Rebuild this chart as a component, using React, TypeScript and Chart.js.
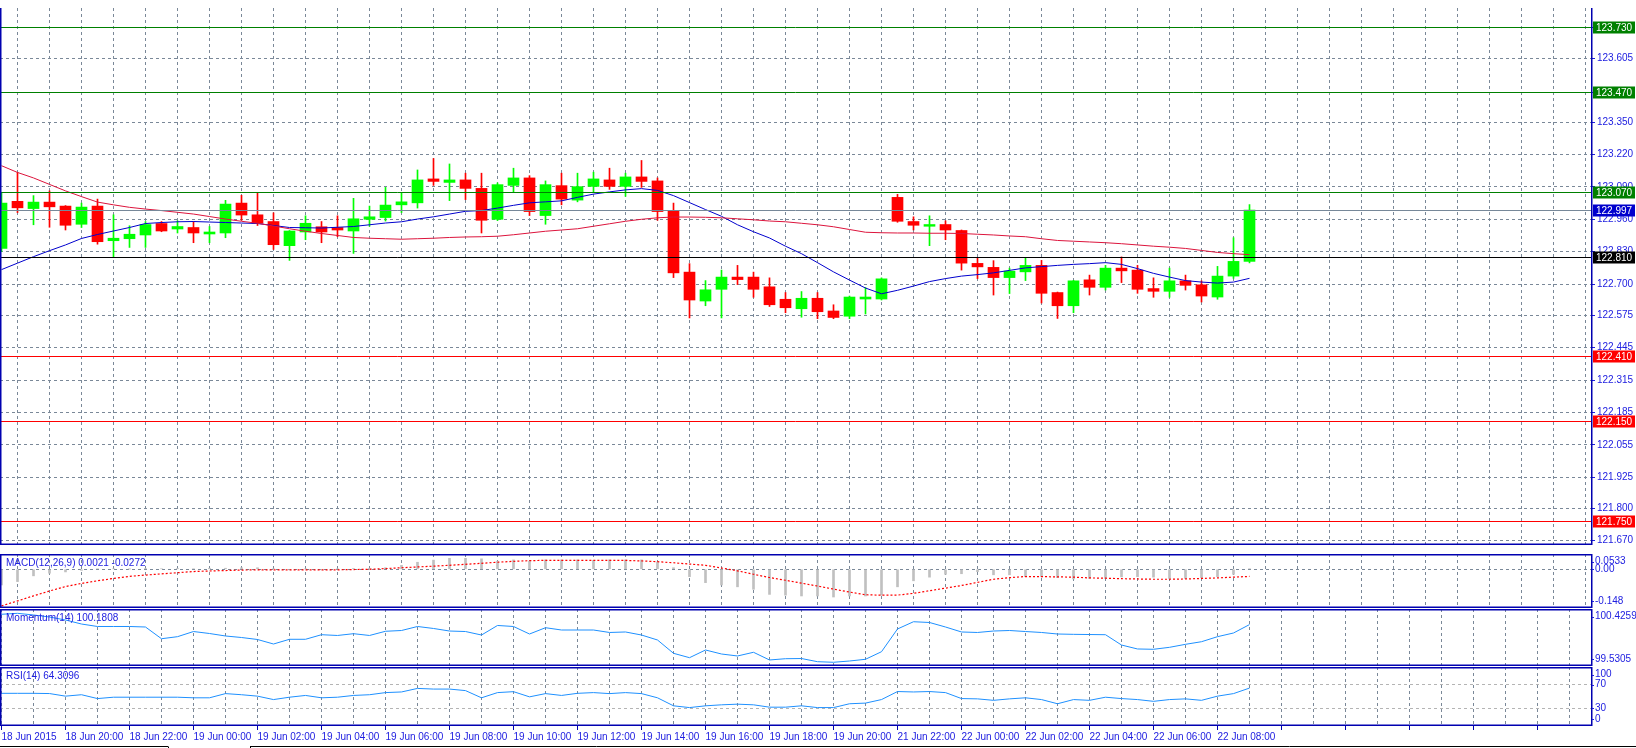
import React, { useEffect, useRef } from "react";
import { Chart, registerables } from "chart.js";

Chart.register(...registerables);

// ---------------- data ----------------
const timeLabels = [
  "18 Jun 2015", "18 Jun 20:00", "18 Jun 22:00", "19 Jun 00:00", "19 Jun 02:00",
  "19 Jun 04:00", "19 Jun 06:00", "19 Jun 08:00", "19 Jun 10:00", "19 Jun 12:00",
  "19 Jun 14:00", "19 Jun 16:00", "19 Jun 18:00", "19 Jun 20:00", "21 Jun 22:00",
  "22 Jun 00:00", "22 Jun 02:00", "22 Jun 04:00", "22 Jun 06:00", "22 Jun 08:00",
];
const barsPerTimeLabel = 4;
const barsPerGridLine = 2;

const opens = [
  122.843, 123.032, 123.003, 123.029, 123.013, 122.940, 123.013, 122.874, 122.882, 122.897,
  122.943, 122.921, 122.927, 122.901, 122.905, 123.025, 122.978, 122.951, 122.854, 122.909,
  122.930, 122.927, 122.913, 122.960, 122.967, 123.018, 123.026, 123.122, 123.108, 123.118,
  123.084, 122.960, 123.096, 123.126, 122.975, 123.095, 123.037, 123.092, 123.118, 123.092,
  123.130, 123.114, 122.993, 122.748, 122.632, 122.679, 122.728, 122.728, 122.689, 122.639,
  122.601, 122.643, 122.592, 122.571, 122.640, 122.640, 123.048, 122.951, 122.932, 122.939,
  122.915, 122.783, 122.767, 122.726, 122.749, 122.775, 122.666, 122.613, 122.717, 122.687,
  122.764, 122.756, 122.682, 122.671, 122.713, 122.697, 122.648, 122.732, 122.791,
];
const highs = [
  123.065, 123.148, 123.055, 123.074, 123.015, 123.025, 123.041, 122.978, 122.934, 122.951,
  122.951, 122.954, 122.951, 122.931, 123.036, 123.056, 123.067, 122.986, 122.915, 122.974,
  122.951, 122.974, 123.044, 123.013, 123.088, 123.065, 123.158, 123.204, 123.182, 123.145,
  123.145, 123.106, 123.165, 123.135, 123.114, 123.145, 123.145, 123.149, 123.165, 123.145,
  123.196, 123.126, 123.025, 122.782, 122.714, 122.756, 122.775, 122.748, 122.725, 122.666,
  122.670, 122.666, 122.617, 122.652, 122.686, 122.725, 123.060, 122.970, 122.974, 122.954,
  122.917, 122.805, 122.794, 122.764, 122.805, 122.795, 122.668, 122.715, 122.736, 122.775,
  122.809, 122.775, 122.725, 122.764, 122.736, 122.713, 122.771, 122.886, 123.019,
];
const lows = [
  122.830, 122.987, 122.938, 122.928, 122.917, 122.927, 122.860, 122.810, 122.847, 122.847,
  122.910, 122.905, 122.866, 122.866, 122.886, 122.956, 122.935, 122.839, 122.795, 122.878,
  122.866, 122.890, 122.823, 122.932, 122.953, 122.987, 123.005, 123.096, 123.035, 123.039,
  122.905, 122.955, 123.067, 122.975, 122.940, 123.018, 123.030, 123.070, 123.080, 123.052,
  123.088, 122.956, 122.726, 122.564, 122.613, 122.564, 122.698, 122.647, 122.610, 122.585,
  122.567, 122.561, 122.561, 122.561, 122.580, 122.636, 122.948, 122.917, 122.854, 122.878,
  122.756, 122.722, 122.656, 122.662, 122.714, 122.624, 122.562, 122.585, 122.656, 122.676,
  122.706, 122.663, 122.647, 122.647, 122.676, 122.628, 122.639, 122.723, 122.785,
];
const closes = [
  123.025, 123.006, 123.029, 123.010, 122.936, 123.009, 122.870, 122.884, 122.900, 122.939,
  122.913, 122.931, 122.905, 122.909, 123.021, 122.977, 122.944, 122.858, 122.913, 122.944,
  122.909, 122.917, 122.962, 122.970, 123.017, 123.030, 123.118, 123.112, 123.118, 123.084,
  122.956, 123.099, 123.126, 122.991, 123.099, 123.041, 123.091, 123.122, 123.092, 123.130,
  123.112, 122.991, 122.745, 122.636, 122.677, 122.728, 122.718, 122.679, 122.617, 122.605,
  122.643, 122.589, 122.566, 122.648, 122.648, 122.721, 122.952, 122.936, 122.939, 122.917,
  122.784, 122.769, 122.726, 122.752, 122.775, 122.663, 122.613, 122.713, 122.687, 122.764,
  122.753, 122.679, 122.671, 122.713, 122.695, 122.652, 122.732, 122.791, 122.997,
];
const maFast = [
  122.758, 122.784, 122.810, 122.834, 122.857, 122.883, 122.899, 122.913, 122.927, 122.943,
  122.947, 122.950, 122.951, 122.949, 122.947, 122.945, 122.943, 122.935, 122.927, 122.926,
  122.925, 122.928, 122.931, 122.938, 122.945, 122.950, 122.961, 122.970, 122.981, 122.992,
  122.995, 123.005, 123.016, 123.026, 123.030, 123.034, 123.048, 123.061, 123.070, 123.078,
  123.083, 123.076, 123.055, 123.027, 122.999, 122.972, 122.938, 122.910, 122.885, 122.852,
  122.822, 122.786, 122.749, 122.716, 122.684, 122.661, 122.675, 122.692, 122.710, 122.722,
  122.732, 122.738, 122.745, 122.755, 122.765, 122.770, 122.775, 122.779, 122.782, 122.786,
  122.779, 122.762, 122.743, 122.728, 122.714, 122.708, 122.704, 122.708, 122.723,
];
const maSlow = [
  123.175, 123.148, 123.126, 123.100, 123.074, 123.051, 123.029, 123.018, 123.008, 123.001,
  122.995, 122.988, 122.981, 122.971, 122.961, 122.952, 122.944, 122.933, 122.922, 122.912,
  122.903, 122.895, 122.887, 122.884, 122.882, 122.880, 122.882, 122.884, 122.887, 122.889,
  122.890, 122.892, 122.898, 122.905, 122.912, 122.917, 122.922, 122.932, 122.942, 122.952,
  122.960, 122.966, 122.969, 122.969, 122.968, 122.966, 122.962, 122.958, 122.953, 122.950,
  122.944, 122.938, 122.930, 122.919, 122.908, 122.906, 122.905, 122.905, 122.904, 122.904,
  122.903, 122.900, 122.897, 122.893, 122.890, 122.882, 122.875, 122.872, 122.869, 122.866,
  122.862, 122.857, 122.852, 122.848, 122.843, 122.835, 122.827, 122.822, 122.818,
];
const macdMain = [
  -0.060, -0.047, -0.025, -0.015, -0.010, -0.004, 0.002, 0.002, 0.001, 0.003,
  0.002, 0.003, 0.002, 0.004, 0.004, 0.006, 0.006, 0.002, -0.001, 0.001,
  -0.002, 0.001, 0.003, 0.004, 0.006, 0.015, 0.027, 0.035, 0.042, 0.042,
  0.040, 0.031, 0.036, 0.031, 0.036, 0.036, 0.036, 0.034, 0.036, 0.036,
  0.036, 0.028, 0.006, -0.028, -0.051, -0.060, -0.067, -0.0765, -0.096, -0.099,
  -0.102, -0.102, -0.106, -0.102, -0.102, -0.099, -0.067, -0.044, -0.030, -0.019,
  -0.017, -0.009, -0.021, -0.021, -0.028, -0.028, -0.032, -0.037, -0.035, -0.035,
  -0.029, -0.028, -0.030, -0.035, -0.035, -0.032, -0.028, -0.019, 0.0021,
];
const macdSignal = [
  -0.140, -0.121, -0.1015, -0.083, -0.066, -0.054, -0.044, -0.035, -0.027, -0.022,
  -0.0175, -0.013, -0.0086, -0.0065, -0.0048, -0.003, -0.002, -0.002, -0.002, -0.002,
  -0.002, -0.002, -0.001, 0.000, 0.0027, 0.006, 0.009, 0.012, 0.0153, 0.019,
  0.023, 0.027, 0.0305, 0.033, 0.0343, 0.0345, 0.0345, 0.0345, 0.0343, 0.034,
  0.032, 0.029, 0.025, 0.020, 0.0153, 0.005, -0.006, -0.019, -0.0315, -0.042,
  -0.053, -0.064, -0.0758, -0.087, -0.0973, -0.099, -0.0986, -0.092, -0.082, -0.072,
  -0.062, -0.050, -0.038, -0.032, -0.0277, -0.028, -0.029, -0.030, -0.033, -0.034,
  -0.036, -0.037, -0.038, -0.038, -0.037, -0.035, -0.033, -0.030, -0.0272,
];
const momentum = [
  100.343, 100.358, 100.332, 100.300, 100.253, 100.190, 100.151, 100.151, 100.151, 100.143,
  99.959, 99.991, 100.072, 100.041, 100.002, 99.978, 99.947, 99.876, 99.950, 99.950,
  100.022, 100.010, 100.038, 100.010, 100.076, 100.088, 100.151, 100.120, 100.080, 100.072,
  100.017, 100.167, 100.151, 100.033, 100.132, 100.096, 100.096, 100.096, 100.057, 100.065,
  100.017, 99.939, 99.730, 99.661, 99.782, 99.719, 99.688, 99.746, 99.625, 99.645,
  99.648, 99.598, 99.589, 99.609, 99.636, 99.755, 100.112, 100.226, 100.214, 100.143,
  100.065, 100.057, 100.080, 100.088, 100.072, 100.057, 100.033, 100.028, 100.025, 100.022,
  99.860, 99.798, 99.793, 99.824, 99.871, 99.912, 99.991, 100.049, 100.181,
];
const rsi = [
  55.4, 55.4, 55.4, 55.0, 50.6, 53.0, 46.5, 48.8, 48.8, 48.8,
  48.8, 48.8, 47.8, 47.8, 54.9, 53.0, 50.6, 44.8, 48.8, 51.8,
  47.8, 48.8, 51.8, 53.0, 56.6, 57.7, 63.7, 62.6, 62.6, 60.0,
  47.8, 56.6, 58.2, 49.4, 54.9, 51.8, 55.4, 56.6, 54.9, 56.6,
  54.9, 47.8, 34.2, 31.2, 34.2, 35.9, 37.0, 35.9, 31.9, 31.9,
  34.2, 31.2, 31.2, 37.7, 38.8, 44.8, 58.4, 57.7, 58.4, 56.6,
  46.5, 46.0, 43.5, 46.0, 47.8, 44.8, 37.7, 44.8, 43.5, 48.8,
  46.5, 44.8, 41.8, 44.8, 46.0, 43.5, 50.6, 54.9, 64.3,
];

const priceTickLabels = [
  "123.730", "123.605", "123.470", "123.350", "123.220", "123.090", "122.960", "122.830",
  "122.700", "122.575", "122.445", "122.315", "122.185", "122.055", "121.925", "121.800", "121.670",
];
const levelPrices = [123.73, 123.47, 123.07, 122.997, 122.81, 122.41, 122.15, 121.75];
const levelKinds = ["resistance", "resistance", "resistance", "bid", "pivot", "support", "support", "support"];

const macdTitle = "MACD(12,26,9) 0.0021 -0.0272";
const momentumTitle = "Momentum(14) 100.1808";
const rsiTitle = "RSI(14) 64.3096";
const macdScaleLabels = ["0.0533", "0.00", "-0.148"];
const momentumScaleLabels = ["100.4259", "99.5305"];
const rsiScaleLabels = ["100", "70", "30", "0"];
const macdGrid = [0];
const rsiLevels = [70, 30];

// ---------------- layout / style ----------------
const PAGE_W = 1636;
const PAGE_H = 748;
const AXIS_W = 45;
const PLOT_W = PAGE_W - AXIS_W;
const BAR_STEP_PX = 16;
const X_MIN = -1.5 / BAR_STEP_PX;
const X_MAX = X_MIN + PLOT_W / BAR_STEP_PX;
const PRICE_MAX = 123.80794;
const PRICE_MIN = 121.65283;
const MACD_RANGE = [-0.148, 0.0585];
const MOM_RANGE = [99.5305, 100.4259];

const FONT_FAMILY = "'Liberation Sans', Arial, sans-serif";
const FONT_SIZE = 10;
const TEXT_BLUE = "#2020e0";
const FRAME_BLUE = "#0000b0";
const GRID_COLOR = "#7a8898";
const GRID_DASH = [3, 3];
const BULL = "#00ff00";
const BEAR = "#ff0000";
const LEVEL_STYLE: Record<string, { line: string; box: string }> = {
  resistance: { line: "#008000", box: "#008000" },
  bid: { line: "#778899", box: "#0000cd" },
  pivot: { line: "#000000", box: "#000000" },
  support: { line: "#ff0000", box: "#ff0000" },
};

const PANELS = {
  main: { top: 0, height: 553 },
  macd: { top: 554, height: 54 },
  mom: { top: 609, height: 57 },
  rsi: { top: 667, height: 81 },
};
const X_AXIS_H = 22;

const pts = (arr: number[]) => arr.map((v, i) => ({ x: i, y: v }));

function xScale(showLabels: boolean): any {
  return {
    type: "linear",
    min: X_MIN,
    max: X_MAX,
    offset: false,
    afterBuildTicks: (s: any) => {
      const t: any[] = [];
      for (let v = 0; v <= X_MAX; v += barsPerGridLine) t.push({ value: v });
      s.ticks = t;
    },
    afterFit: (s: any) => {
      s.height = showLabels ? X_AXIS_H : 0;
    },
    border: { display: false, dash: GRID_DASH },
    grid: {
      color: GRID_COLOR,
      lineWidth: 1,
      drawTicks: showLabels,
      tickLength: 4,
      tickBorderDash: [],
      tickColor: (c: any) =>
        c.tick && Math.round(c.tick.value) % barsPerTimeLabel === 0 ? FRAME_BLUE : "rgba(0,0,0,0)",
    },
    ticks: {
      display: showLabels,
      autoSkip: false,
      maxRotation: 0,
      minRotation: 0,
      align: "start",
      padding: 1,
      color: TEXT_BLUE,
      font: { family: FONT_FAMILY, size: FONT_SIZE },
      callback: (v: any) => {
        const i = Math.round(Number(v));
        if (i % barsPerTimeLabel !== 0) return "";
        return timeLabels[i / barsPerTimeLabel] ?? "";
      },
    },
  };
}

function ySub(min: number, max: number, gridValues: number[], color: string): any {
  return {
    type: "linear",
    position: "right",
    min,
    max,
    afterBuildTicks: (s: any) => {
      s.ticks = gridValues.map((v) => ({ value: v }));
    },
    afterFit: (s: any) => {
      s.width = AXIS_W;
    },
    border: { display: false, dash: GRID_DASH },
    grid: { color, drawTicks: false, lineWidth: 1 },
    ticks: { display: false },
  };
}

function framePlugin(drawTop: boolean): any {
  return {
    id: "frame",
    afterDraw(chart: any) {
      const { ctx, chartArea: a } = chart;
      ctx.save();
      ctx.strokeStyle = FRAME_BLUE;
      ctx.lineWidth = 1.5;
      ctx.setLineDash([]);
      ctx.beginPath();
      if (drawTop) {
        ctx.moveTo(0, a.top + 0.75);
        ctx.lineTo(a.right + 1.5, a.top + 0.75);
      }
      ctx.moveTo(0, a.bottom - 0.75);
      ctx.lineTo(a.right + 1.5, a.bottom - 0.75);
      ctx.moveTo(0.75, a.top);
      ctx.lineTo(0.75, a.bottom);
      ctx.moveTo(a.right + 0.75, a.top);
      ctx.lineTo(a.right + 0.75, a.bottom);
      ctx.stroke();
      ctx.restore();
    },
  };
}

function sideLabelsPlugin(title: string, labels: string[]): any {
  return {
    id: "sideLabels",
    afterDraw(chart: any) {
      const { ctx, chartArea: a, scales } = chart;
      const y = scales.y;
      ctx.save();
      ctx.font = `${FONT_SIZE}px ${FONT_FAMILY}`;
      ctx.fillStyle = TEXT_BLUE;
      ctx.textBaseline = "middle";
      ctx.textAlign = "left";
      ctx.fillText(title, 6, a.top + 9.5);
      labels.forEach((t) => {
        let py = y.getPixelForValue(Number(t));
        py = Math.min(Math.max(py, a.top + 7.5), a.bottom - 7);
        ctx.fillText(t, a.right + 4, py);
        ctx.strokeStyle = TEXT_BLUE;
        ctx.lineWidth = 1;
        ctx.beginPath();
        ctx.moveTo(a.right + 1, Math.round(py) + 0.5);
        ctx.lineTo(a.right + 3, Math.round(py) + 0.5);
        ctx.stroke();
      });
      ctx.restore();
    },
  };
}

const levelsPlugin: any = {
  id: "levels",
  afterDatasetsDraw(chart: any) {
    const { ctx, chartArea: a, scales } = chart;
    const y = scales.y;
    ctx.save();
    ctx.font = `${FONT_SIZE}px ${FONT_FAMILY}`;
    ctx.textBaseline = "middle";
    ctx.textAlign = "left";
    levelPrices.forEach((p, k) => {
      const st = LEVEL_STYLE[levelKinds[k]];
      const py = Math.round(y.getPixelForValue(p)) + 0.5;
      ctx.strokeStyle = st.line;
      ctx.lineWidth = 1;
      ctx.beginPath();
      ctx.moveTo(a.left, py);
      ctx.lineTo(a.right, py);
      ctx.stroke();
      ctx.fillStyle = st.box;
      ctx.fillRect(a.right + 2, py - 6, 42, 12);
      ctx.fillStyle = "#ffffff";
      ctx.fillText(p.toFixed(3), a.right + 5, py + 0.5);
    });
    ctx.restore();
  },
};

const tabBarPlugin: any = {
  id: "tabbar",
  afterDraw(chart: any) {
    const { ctx, height } = chart;
    const yy = height - 1.5;
    ctx.save();
    ctx.strokeStyle = "#000000";
    ctx.lineWidth = 1;
    ctx.beginPath();
    ctx.moveTo(0, yy);
    ctx.lineTo(168, yy);
    ctx.moveTo(168.5, yy);
    ctx.lineTo(168.5, height);
    ctx.moveTo(250, yy);
    ctx.lineTo(PAGE_W, yy);
    ctx.moveTo(250.5, yy);
    ctx.lineTo(250.5, height);
    ctx.stroke();
    ctx.restore();
  },
};

const baseOptions: any = {
  responsive: false,
  maintainAspectRatio: false,
  animation: false,
  devicePixelRatio: 1,
  events: [],
  layout: { padding: 0 },
  plugins: { legend: { display: false }, tooltip: { enabled: false }, title: { display: false } },
};

function mainConfig(): any {
  const colors = opens.map((o, i) => (closes[i] >= o ? BULL : BEAR));
  return {
    type: "bar",
    data: {
      datasets: [
        { type: "line", data: pts(maSlow), borderColor: "#dc143c", borderWidth: 1, pointRadius: 0, order: 0 },
        { type: "line", data: pts(maFast), borderColor: "#0000cd", borderWidth: 1, pointRadius: 0, order: 0 },
        {
          type: "bar",
          data: opens.map((o, i) => ({ x: i, y: [o, closes[i]] })),
          backgroundColor: colors,
          barThickness: 11,
          minBarLength: 1,
          grouped: false,
          order: 1,
        },
        {
          type: "bar",
          data: lows.map((l, i) => ({ x: i, y: [l, highs[i]] })),
          backgroundColor: colors,
          barThickness: 1,
          grouped: false,
          order: 2,
        },
      ],
    },
    options: {
      ...baseOptions,
      scales: {
        x: xScale(false),
        y: {
          type: "linear",
          position: "right",
          min: PRICE_MIN,
          max: PRICE_MAX,
          afterBuildTicks: (s: any) => {
            s.ticks = priceTickLabels.map((t) => ({ value: Number(t) }));
          },
          afterFit: (s: any) => {
            s.width = AXIS_W;
          },
          border: { display: false, dash: GRID_DASH },
          grid: { color: GRID_COLOR, lineWidth: 1, drawTicks: true, tickLength: 4, tickColor: TEXT_BLUE, tickBorderDash: [] },
          ticks: {
            autoSkip: false,
            padding: 2,
            color: TEXT_BLUE,
            font: { family: FONT_FAMILY, size: FONT_SIZE },
            callback: (_v: any, idx: number) => priceTickLabels[idx] ?? "",
          },
        },
      },
    },
    plugins: [levelsPlugin, framePlugin(false)],
  };
}

function macdConfig(): any {
  return {
    type: "bar",
    data: {
      datasets: [
        { type: "line", data: pts(macdSignal), borderColor: "#ff0000", borderWidth: 1.2, borderDash: [2, 2], pointRadius: 0, order: 0 },
        { type: "bar", data: pts(macdMain), backgroundColor: "#c0c0c0", barThickness: 2, grouped: false, order: 1 },
      ],
    },
    options: {
      ...baseOptions,
      scales: { x: xScale(false), y: ySub(MACD_RANGE[0], MACD_RANGE[1], macdGrid, GRID_COLOR) },
    },
    plugins: [framePlugin(true), sideLabelsPlugin(macdTitle, macdScaleLabels)],
  };
}

function momConfig(): any {
  return {
    type: "line",
    data: {
      datasets: [{ data: pts(momentum), borderColor: "#1e90ff", borderWidth: 1, pointRadius: 0 }],
    },
    options: {
      ...baseOptions,
      scales: { x: xScale(false), y: ySub(MOM_RANGE[0], MOM_RANGE[1], [], GRID_COLOR) },
    },
    plugins: [framePlugin(true), sideLabelsPlugin(momentumTitle, momentumScaleLabels)],
  };
}

function rsiConfig(): any {
  return {
    type: "line",
    data: {
      datasets: [{ data: pts(rsi), borderColor: "#1e90ff", borderWidth: 1, pointRadius: 0 }],
    },
    options: {
      ...baseOptions,
      scales: { x: xScale(true), y: ySub(0, 100, rsiLevels, "#b4b4b4") },
    },
    plugins: [framePlugin(true), sideLabelsPlugin(rsiTitle, rsiScaleLabels), tabBarPlugin],
  };
}

export default function App() {
  const mainRef = useRef<HTMLCanvasElement>(null);
  const macdRef = useRef<HTMLCanvasElement>(null);
  const momRef = useRef<HTMLCanvasElement>(null);
  const rsiRef = useRef<HTMLCanvasElement>(null);

  useEffect(() => {
    document.body.style.margin = "0";
    Chart.defaults.font.family = FONT_FAMILY;
    const charts = [
      new Chart(mainRef.current as HTMLCanvasElement, mainConfig()),
      new Chart(macdRef.current as HTMLCanvasElement, macdConfig()),
      new Chart(momRef.current as HTMLCanvasElement, momConfig()),
      new Chart(rsiRef.current as HTMLCanvasElement, rsiConfig()),
    ];
    return () => charts.forEach((c) => c.destroy());
  }, []);

  const cv = (top: number, height: number): React.CSSProperties => ({
    position: "absolute",
    left: 0,
    top,
    width: PAGE_W,
    height,
    display: "block",
  });

  return (
    <div
      style={{
        position: "fixed",
        left: 0,
        top: 0,
        width: PAGE_W,
        height: PAGE_H,
        background: "#ffffff",
        overflow: "hidden",
      }}
    >
      <canvas ref={mainRef} width={PAGE_W} height={PANELS.main.height} style={cv(PANELS.main.top, PANELS.main.height)} />
      <canvas ref={macdRef} width={PAGE_W} height={PANELS.macd.height} style={cv(PANELS.macd.top, PANELS.macd.height)} />
      <canvas ref={momRef} width={PAGE_W} height={PANELS.mom.height} style={cv(PANELS.mom.top, PANELS.mom.height)} />
      <canvas ref={rsiRef} width={PAGE_W} height={PANELS.rsi.height} style={cv(PANELS.rsi.top, PANELS.rsi.height)} />
    </div>
  );
}
